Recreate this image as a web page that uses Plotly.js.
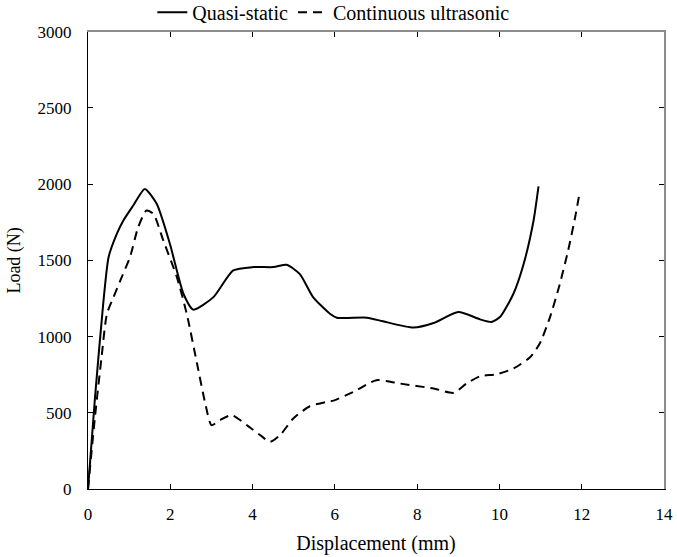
<!DOCTYPE html>
<html>
<head>
<meta charset="utf-8">
<script src="https://cdn.plot.ly/plotly-3.0.1.min.js"></script>
<style>html,body{margin:0;padding:0;background:#fff;}#chart{width:677px;height:557px;}</style>
</head>
<body>
<div id="chart"></div>
<script>
// Quasi-static (solid)
const qsX = [0, 0.17, 0.37, 0.50, 0.70, 0.86, 1.10, 1.38, 1.67, 1.99, 2.32, 2.56, 3.05, 3.53, 4.02, 4.51, 4.83, 5.15, 5.47, 5.88, 6.05, 6.78, 7.17, 7.91, 8.40, 9.00, 9.53, 9.81, 10.02, 10.34, 10.59, 10.83, 10.95];
const qsY = [0, 600, 1216, 1521, 1674, 1762, 1860, 1969, 1871, 1609, 1281, 1177, 1259, 1434, 1456, 1456, 1471, 1410, 1259, 1150, 1124, 1124, 1100, 1059, 1089, 1161, 1113, 1096, 1130, 1281, 1478, 1762, 1985];
// Continuous ultrasonic (dashed)
const cuX = [0, 0.17, 0.33, 0.46, 0.62, 0.82, 1.02, 1.22, 1.42, 1.59, 1.83, 2.16, 2.40, 2.65, 2.85, 3.00, 3.21, 3.49, 3.86, 4.18, 4.43, 4.67, 4.99, 5.39, 5.80, 5.97, 6.45, 7.01, 7.58, 8.40, 8.89, 9.20, 9.53, 9.93, 10.34, 10.75, 10.98, 11.23, 11.47, 11.67, 11.84, 11.95];
const cuY = [0, 474, 866, 1150, 1259, 1390, 1521, 1718, 1827, 1805, 1631, 1390, 1150, 823, 561, 419, 452, 485, 419, 354, 310, 354, 463, 543, 572, 580, 637, 714, 692, 659, 631, 692, 740, 753, 790, 866, 954, 1128, 1347, 1565, 1783, 1947];

const xTicks = [0, 2, 4, 6, 8, 10, 12, 14];
const yTicks = [0, 500, 1000, 1500, 2000, 2500, 3000];

const serif = "'Liberation Serif', 'Times New Roman', serif";
const mirrorColor = '#8c8c8c';

const traces = [
  {x: qsX, y: qsY, mode: 'lines', name: 'Quasi-static',
   line: {color: '#000', width: 2, shape: 'spline', smoothing: 0.6}},
  {x: cuX, y: cuY, mode: 'lines', name: 'Continuous ultrasonic',
   line: {color: '#000', width: 2, dash: '9px,6px', shape: 'spline', smoothing: 0.6}},
  {x: [null], y: [null], xaxis: 'x2', yaxis: 'y2', showlegend: false, hoverinfo: 'skip', mode: 'lines'}
];

const layout = {
  width: 677, height: 557,
  margin: {l: 88, r: 13, t: 31, b: 68},
  paper_bgcolor: '#fff', plot_bgcolor: '#fff',
  font: {family: serif, color: '#000', size: 17},
  showlegend: true,
  legend: {orientation: 'h', xref: 'container', yref: 'container',
           x: 0.225, xanchor: 'left', y: 0.978, yanchor: 'middle',
           font: {family: serif, size: 20, color: '#000'}, traceorder: 'normal',
           bgcolor: 'rgba(0,0,0,0)'},
  xaxis: {range: [0, 14], tickvals: xTicks, ticktext: xTicks.map(String),
          showgrid: false, zeroline: false, showline: true, linecolor: '#000', linewidth: 1,
          mirror: false, ticks: 'inside', ticklen: 5, tickcolor: '#000', tickwidth: 1,
          ticklabelstandoff: 10,
          tickfont: {family: serif, size: 17, color: '#000'},
          title: {text: 'Displacement (mm)', font: {family: serif, size: 20, color: '#000'}, standoff: 12}},
  yaxis: {range: [0, 3000], tickvals: yTicks, ticktext: yTicks.map(String),
          showgrid: false, zeroline: false, showline: true, linecolor: '#000', linewidth: 1,
          mirror: false, ticks: 'inside', ticklen: 5, tickcolor: '#000', tickwidth: 1,
          ticklabelstandoff: 12,
          tickfont: {family: serif, size: 17, color: '#000'},
          title: {text: 'Load (N)', font: {family: serif, size: 18, color: '#000'}, standoff: 12}},
  xaxis2: {overlaying: 'x', side: 'top', matches: 'x', range: [0, 14], tickvals: xTicks,
           showticklabels: false, showgrid: false, zeroline: false, showline: true,
           linecolor: mirrorColor, linewidth: 1.5,
           ticks: 'inside', ticklen: 5, tickcolor: '#000', tickwidth: 1},
  yaxis2: {overlaying: 'y', side: 'right', matches: 'y', range: [0, 3000], tickvals: yTicks,
           showticklabels: false, showgrid: false, zeroline: false, showline: true,
           linecolor: mirrorColor, linewidth: 1.5,
           ticks: 'inside', ticklen: 5, tickcolor: '#000', tickwidth: 1}
};

Plotly.newPlot('chart', traces, layout, {displayModeBar: false, staticPlot: true});
</script>
</body>
</html>
